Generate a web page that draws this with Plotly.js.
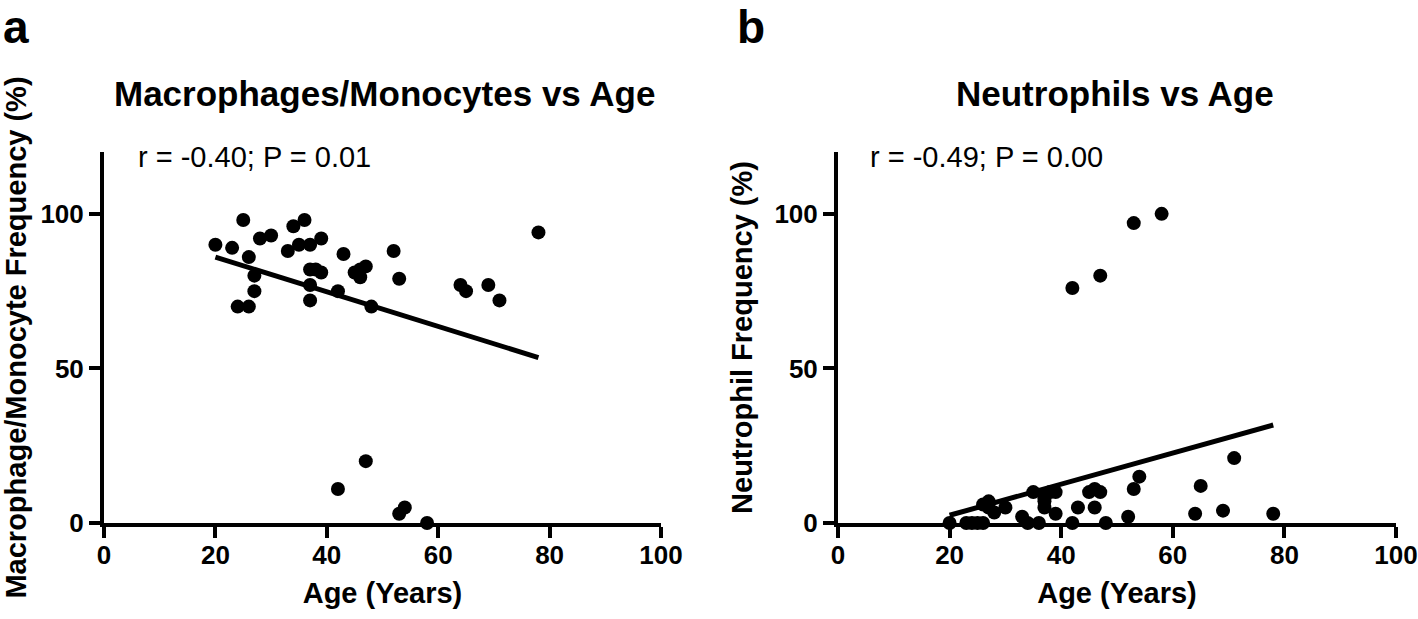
<!DOCTYPE html>
<html>
<head>
<meta charset="utf-8">
<script src="https://cdn.plot.ly/plotly-3.0.1.min.js"></script>
<style>html,body{margin:0;padding:0;background:#fff;}#chart{width:1418px;height:619px;}</style>
</head>
<body>
<div id="chart"></div>
<script>
// ---- Data ----
const agesMacro = [20, 23, 25, 26, 27, 27, 24, 26, 28, 30, 34, 36, 33, 35, 37, 39, 37, 38, 39, 37,
                   37, 43, 42, 45, 46, 47, 46, 48, 52, 53, 78, 64, 65, 69, 71, 42, 47, 53, 54, 58];
const macroFreq = [90, 89, 98, 86, 80, 75, 70, 70, 92, 93, 96, 98, 88, 90, 90, 92, 82, 82, 81, 77,
                   72, 87, 75, 81, 82, 83, 79.5, 70, 88, 79, 94, 77, 75, 77, 72, 11, 20, 3, 5, 0];
const fitAgesMacro = [20, 78];
const fitMacro = [86, 53.5];

const agesNeutro = [20, 23, 24, 25, 26, 26, 27, 27, 28, 30, 33, 34, 35, 36, 37, 37, 37, 38, 39, 39,
                    42, 43, 45, 46, 47, 46, 48, 52, 53, 54, 64, 65, 69, 71, 78, 42, 47, 53, 58, 37];
const neutroFreq = [0, 0, 0, 0, 0, 6, 7, 5, 3.4, 5, 2, 0, 10, 0, 5, 7, 9, 10, 10, 3,
                    0, 5, 10, 11, 10, 5, 0, 2, 11, 15, 3, 12, 4, 21, 3, 76, 80, 97, 100, 8];
const fitAgesNeutro = [20, 78];
const fitNeutro = [2.5, 31.7];

const xTicks = [0, 20, 40, 60, 80, 100];
const yTicks = [0, 50, 100];
const statsMacro = 'r = -0.40; P = 0.01';
const statsNeutro = 'r = -0.49; P = 0.00';

// ---- Layout ----
const W = 1418, H = 619;
const M = {l: 104, r: 22, t: 152, b: 96};
const PW = W - M.l - M.r, PH = H - M.t - M.b;
const px = v => (v - M.l) / PW;
const py = v => (H - M.b - v) / PH;
const FONT = 'Liberation Sans, Arial, Helvetica, sans-serif';

const markerStyle = {color: '#000', size: 14, line: {width: 0}};
const lineStyle = {color: '#000', width: 5};

const traces = [
  {x: agesMacro, y: macroFreq, type: 'scatter', mode: 'markers', marker: markerStyle,
   xaxis: 'x', yaxis: 'y', cliponaxis: false},
  {x: fitAgesMacro, y: fitMacro, type: 'scatter', mode: 'lines', line: lineStyle,
   xaxis: 'x', yaxis: 'y', cliponaxis: false},
  {x: agesNeutro, y: neutroFreq, type: 'scatter', mode: 'markers', marker: markerStyle,
   xaxis: 'x2', yaxis: 'y2', cliponaxis: false},
  {x: fitAgesNeutro, y: fitNeutro, type: 'scatter', mode: 'lines', line: lineStyle,
   xaxis: 'x2', yaxis: 'y2', cliponaxis: false}
];

function xAxis(domain, anchor) {
  return {
    domain: domain, anchor: anchor, range: [0, 100], tickvals: xTicks,
    showgrid: false, zeroline: false, showline: true, linecolor: '#000', linewidth: 4,
    ticks: 'outside', ticklen: 11, tickwidth: 4, tickcolor: '#000', ticklabelstandoff: -5,
    ticklabeloverflow: 'allow',
    tickfont: {family: FONT, size: 26, color: '#000', weight: 'bold'},
    title: {text: 'Age (Years)', font: {family: FONT, size: 29, color: '#000', weight: 'bold'}, standoff: 14},
    fixedrange: true
  };
}
function yAxis(domain, anchor, title) {
  return {
    domain: domain, anchor: anchor, range: [0, 120], tickvals: yTicks,
    showgrid: false, zeroline: false, showline: true, linecolor: '#000', linewidth: 4,
    ticks: 'outside', ticklen: 11, tickwidth: 4, tickcolor: '#000', ticklabelstandoff: 0,
    ticklabeloverflow: 'allow',
    tickfont: {family: FONT, size: 26, color: '#000', weight: 'bold'},
    title: {text: title, font: {family: FONT, size: 29, color: '#000', weight: 'bold'}, standoff: 14},
    fixedrange: true
  };
}

const layout = {
  width: W, height: H, margin: M, showlegend: false,
  paper_bgcolor: '#fff', plot_bgcolor: '#fff',
  font: {family: FONT, color: '#000'},
  xaxis: xAxis([0, px(661)], 'y'),
  yaxis: yAxis([0, 1], 'x', 'Macrophage/Monocyte Frequency (%)'),
  xaxis2: xAxis([px(838), 1], 'y2'),
  yaxis2: yAxis([0, 1], 'x2', 'Neutrophil Frequency (%)'),
  annotations: [
    {text: 'a', xref: 'paper', yref: 'paper', x: px(2), y: py(0), xanchor: 'left', yanchor: 'top',
     borderpad: 0, showarrow: false, font: {family: FONT, size: 46, weight: 'bold', color: '#000'}},
    {text: 'b', xref: 'paper', yref: 'paper', x: px(736), y: py(0), xanchor: 'left', yanchor: 'top',
     borderpad: 0, showarrow: false, font: {family: FONT, size: 46, weight: 'bold', color: '#000'}},
    {text: 'Macrophages/Monocytes vs Age', xref: 'paper', yref: 'paper', x: px(384), y: py(94),
     xanchor: 'center', yanchor: 'middle', showarrow: false,
     font: {family: FONT, size: 35, weight: 'bold', color: '#000'}},
    {text: 'Neutrophils vs Age', xref: 'paper', yref: 'paper', x: px(1115), y: py(94),
     xanchor: 'center', yanchor: 'middle', showarrow: false,
     font: {family: FONT, size: 35, weight: 'bold', color: '#000'}},
    {text: statsMacro, xref: 'paper', yref: 'paper', x: px(136), y: py(157),
     xanchor: 'left', yanchor: 'middle', showarrow: false,
     font: {family: FONT, size: 29, color: '#000'}},
    {text: statsNeutro, xref: 'paper', yref: 'paper', x: px(868), y: py(157),
     xanchor: 'left', yanchor: 'middle', showarrow: false,
     font: {family: FONT, size: 29, color: '#000'}}
  ]
};

Plotly.newPlot('chart', traces, layout, {displayModeBar: false, staticPlot: true});
</script>
</body>
</html>
